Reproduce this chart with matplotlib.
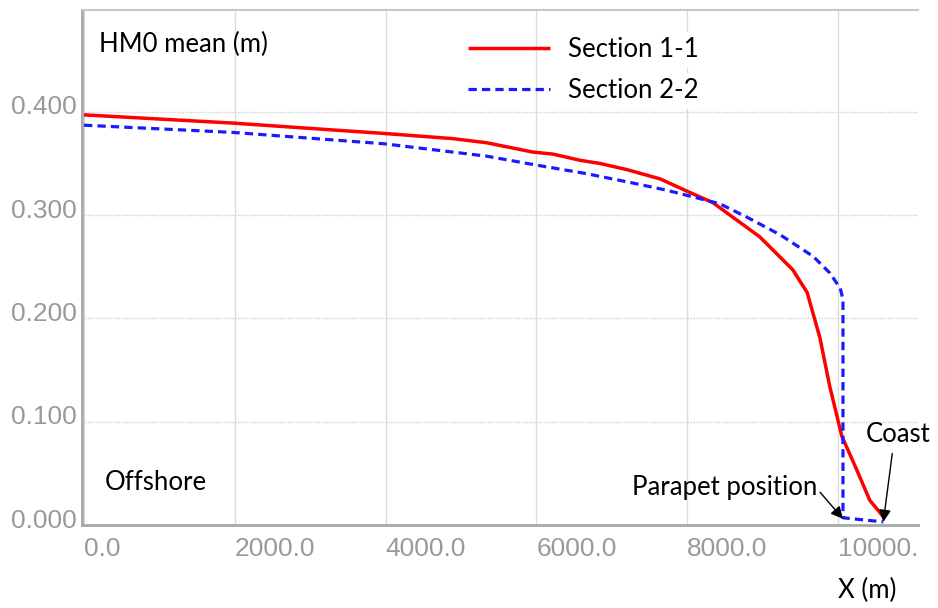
import matplotlib
matplotlib.use("Agg")
import matplotlib.pyplot as plt
from matplotlib.transforms import ScaledTranslation, Bbox, TransformedBbox

# HM0 mean wave height along the two sections
x_sec1 = [0, 1980, 3980, 4890, 5340, 5950, 6220, 6580, 6840, 7200, 7640,
          8000, 8340, 8960, 9400, 9590, 9760, 9890, 10050, 10250, 10420, 10600]
hm0_sec1 = [0.397, 0.389, 0.379, 0.374, 0.370, 0.361, 0.359, 0.353, 0.350,
            0.344, 0.335, 0.323, 0.312, 0.279, 0.247, 0.225, 0.181, 0.134,
            0.086, 0.053, 0.024, 0.008]

x_sec2 = [0, 1980, 3980, 5340, 5950, 6670, 7280, 7730, 8000, 8430, 8790,
          9230, 9670, 9890, 10030, 10065, 10065, 10330, 10600]
hm0_sec2 = [0.387, 0.380, 0.369, 0.357, 0.349, 0.340, 0.331, 0.324, 0.319,
            0.311, 0.298, 0.281, 0.260, 0.244, 0.229, 0.218, 0.007, 0.005,
            0.003]

x_ticks = [0, 2000, 4000, 6000, 8000, 10000]
x_tick_labels = ["0.0", "2000.0", "4000.0", "6000.0", "8000.0", "10000.0"]
y_ticks = [0.0, 0.1, 0.2, 0.3, 0.4]
y_tick_labels = ["0.000", "0.100", "0.200", "0.300", "0.400"]

parapet_x, parapet_y = 10065, 0.006
coast_x, coast_y = 10600, 0.003

txt_font = "Lato"
txt_size = 18.5
tick_font = "Liberation Sans"
grey = "#9a9a9a"

fig = plt.figure(figsize=(9.38, 6.08), dpi=100)
ax = fig.add_axes([82 / 938, 1 - 525 / 608, (918 - 82) / 938, (525 - 10) / 608])

ax.plot(x_sec1, hm0_sec1, color="#ff0000", lw=2.5, label="Section 1-1",
        solid_capstyle="butt")
ax.plot(x_sec2, hm0_sec2, color="#1a1aff", lw=2.3, dashes=(2.6, 1.6),
        label="Section 2-2")

ax.set_xlim(-27, 11060)
ax.set_ylim(0, 0.4985)

ax.set_xticks(x_ticks)
ax.set_xticklabels(x_tick_labels, ha="left", fontsize=19,
                   color=grey, family=tick_font)
ax.set_yticks(y_ticks)
ax.set_yticklabels(y_tick_labels, fontsize=19, color=grey, family=tick_font)
ax.tick_params(axis="both", length=0)
ax.tick_params(axis="x", pad=9)
ax.tick_params(axis="y", pad=4)
for lbl in ax.get_yticklabels():
    lbl.set_transform(lbl.get_transform()
                      + ScaledTranslation(0, 0.07, fig.dpi_scale_trans))

# the last x label is cut off at the right edge of the plot area
clip = TransformedBbox(Bbox([[0, 0], [918 / 938, 1]]), fig.transFigure)
for lbl in ax.get_xticklabels():
    lbl.set_clip_box(clip)
    lbl.set_clip_on(True)

# solid vertical grid, dotted horizontal grid
ax.grid(axis="x", color="#dcdcdc", lw=1.0, ls="-")
ax.grid(axis="y", color="#cfcfcf", lw=1.0, ls=(0, (1, 1)))
ax.set_axisbelow(True)

ax.spines["right"].set_visible(False)
ax.spines["top"].set_color("#c8c8c8")
ax.spines["top"].set_linewidth(1.5)
for side in ("left", "bottom"):
    ax.spines[side].set_color("#a8a8a8")
    ax.spines[side].set_linewidth(2)

leg = ax.legend(loc="upper left", bbox_to_anchor=(0.434, 0.992), frameon=False,
                prop={"family": txt_font, "size": txt_size}, handlelength=3.2,
                handletextpad=0.7, labelspacing=0.62)
for t in leg.get_texts():
    t.set_bbox(dict(facecolor="white", edgecolor="none", pad=4))

ax.text(200, 0.465, "HM0 mean (m)", family=txt_font, fontsize=txt_size,
        ha="left", va="center")
ax.text(280, 0.041, "Offshore", family=txt_font, fontsize=txt_size,
        ha="left", va="center")

ax.annotate("Parapet position", xy=(parapet_x, parapet_y),
            xytext=(7266, 0.036), family=txt_font, fontsize=txt_size,
            ha="left", va="center",
            arrowprops=dict(arrowstyle="-|>", color="black", lw=1.0,
                            mutation_scale=18, relpos=(1.0, 0.45),
                            shrinkA=0, shrinkB=0))
ax.annotate("Coast", xy=(coast_x, coast_y), xytext=(10370, 0.088),
            family=txt_font, fontsize=txt_size, ha="left", va="center",
            annotation_clip=False,
            arrowprops=dict(arrowstyle="-|>", color="black", lw=1.0,
                            mutation_scale=18, relpos=(0.42, 0.0),
                            shrinkA=3, shrinkB=0))

fig.text(838 / 938, 1 - 590 / 608, "X (m)", family=txt_font, fontsize=txt_size,
         ha="left", va="center")

fig.savefig("out.png", dpi=100)
